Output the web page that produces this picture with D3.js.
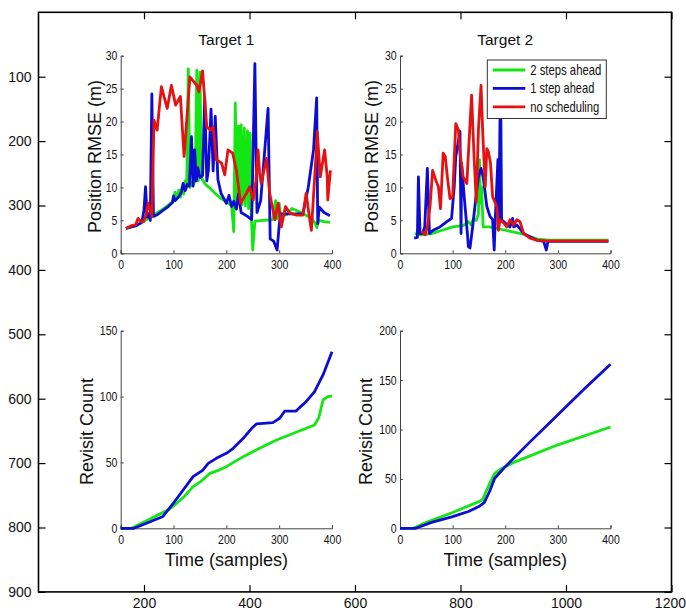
<!DOCTYPE html>
<html><head><meta charset="utf-8">
<script src="https://cdn.jsdelivr.net/npm/d3@7"></script>
<style>body{margin:0;background:#fff}svg{display:block}text{font-family:"Liberation Sans",Arial,Helvetica,sans-serif}</style>
</head><body><svg id="c" width="686" height="611"></svg>
<script>
// ---------- tick labels ----------
const outerXTicks = [200, 400, 600, 800, 1000, 1200];
const outerYTicks = [100, 200, 300, 400, 500, 600, 700, 800, 900];
const timeTicks = [0, 100, 200, 300, 400];
const rmseTicks = [0, 5, 10, 15, 20, 25, 30];
const revisit1Ticks = [0, 50, 100, 150];
const revisit2Ticks = [0, 50, 100, 150, 200];
const seriesNames = ["2 steps ahead", "1 step ahead", "no scheduling"];
const titles = ["Target 1", "Target 2"];

// ---------- Target 1 RMSE ----------
const t1Green = [[10,3.8],[20,4.0],[30,4.3],[40,4.7],[50,5.2],[60,5.6],[70,6.2],[80,6.7],[90,7.3],[100,8.0],[103,9.3],[106,8.2],[110,9.6],[113,8.5],[116,10],[119,9],[122,11],[125,10],[128,28],[131,10],[135,10.8],[138,10.5],[141,11],[144,27.8],[147,11],[150,27.5],[153,11.5],[156,11],[160,10.5],[170,9.8],[180,9.0],[190,8.3],[200,7.8],[210,7.2],[214,3.3],[217,22.8],[220,7.6],[223,19.3],[225,7.8],[228,19.5],[230,7.4],[234,19.0],[236,7.2],[240,18.6],[242,6.8],[245,18.2],[247,6.3],[250,0.5],[254,4.9],[270,5.0],[288,5.1],[293,8.0],[296,5.3],[300,7.6],[303,5.6],[315,5.9],[324,6.8],[333,6.5],[345,6.0],[360,5.4],[368,4.6],[371,3.9],[375,5.0],[385,4.8],[396,4.7]];
const t1Blue = [[10,3.8],[20,4.0],[30,4.2],[40,4.7],[44,6.5],[47,10.1],[50,5.5],[53,6.0],[56,5.0],[59,24.2],[62,5.6],[70,5.9],[80,6.5],[90,7.1],[98,7.7],[100,8.7],[103,8.0],[110,8.6],[115,9.3],[118,10.6],[122,9.5],[126,10.5],[130,10.2],[134,17.7],[137,10.2],[140,15.7],[143,11],[146,13],[150,11.5],[155,11.8],[159,23.5],[163,11],[166,12.6],[171,21.9],[175,12.5],[179,20.8],[184,11.2],[190,9.1],[200,7.6],[205,8.8],[210,7.1],[214,7.9],[219,6.7],[223,9.0],[228,6.2],[240,5.6],[248,5.1],[254,28.8],[258,6.2],[265,8],[272,15],[279,22],[283,2.2],[290,1.8],[296,0.5],[302,6.0],[320,6.0],[345,6.0],[355,10],[365,15.7],[371,23.6],[373,4.5],[376,7.0],[385,6.2],[396,5.7]];
const t1Red = [[10,3.8],[20,4.2],[28,4.3],[33,5.3],[38,4.8],[43,4.8],[48,5.8],[52,7.6],[56,6.5],[59,5.6],[63,20.2],[69,18.7],[77,25.3],[88,22],[96,25.5],[104,22.5],[113,23.8],[120,14.7],[131,26.8],[144,25.5],[148,24.5],[155,27.7],[163,19.2],[170,18.7],[175,19.2],[181,14.2],[191,13.7],[197,11.9],[203,15.7],[212,15.2],[219,12.6],[227,7.6],[238,9.1],[244,10.1],[251,8.1],[256,11.1],[260,15.7],[263,12.1],[266,10.6],[276,14.4],[282,9.1],[292,5.1],[298,7.6],[304,4.0],[312,7.1],[320,6.1],[333,5.8],[345,5.8],[351,9.1],[358,5.1],[361,3.5],[370,15.2],[372,18.5],[378,11.6],[386,15.7],[391,11.6],[392,8.1],[397,12.6]];

// ---------- Target 2 RMSE ----------
const t2Green = [[28,3.0],[40,2.8],[60,3.0],[80,3.5],[100,4.0],[120,4.2],[130,4.8],[135,4.3],[140,5.3],[145,5.0],[149,6.0],[151,14.2],[153,7.6],[155,10.1],[158,4.0],[170,4.0],[200,3.5],[230,3.0],[260,2.2],[280,2.0],[396,2.0]];
const t2Blue = [[27,2.3],[33,2.4],[35,11.6],[38,3.0],[43,3.0],[47,4.0],[52,12.9],[56,3.0],[63,3.5],[76,4.0],[89,4.8],[98,5.3],[103,10.1],[106,14.7],[114,18.5],[116,3.0],[117,13.7],[122,8.6],[127,4.0],[130,1.0],[133,0.8],[138,4.0],[143,7.6],[149,11.6],[154,12.9],[158,11.6],[165,7.1],[171,5.6],[176,5.1],[179,0.5],[181,5.1],[186,14.2],[188,5],[191,28],[193,5.1],[200,4.6],[209,4.0],[214,5.3],[216,4.0],[222,4.3],[235,3.0],[260,2.0],[273,1.8],[278,0.5],[281,1.8],[396,1.8]];
const t2Red = [[41,3.3],[48,2.8],[52,4.0],[57,7.1],[62,12.6],[68,11.1],[73,10.1],[77,6.8],[82,15.2],[86,14.7],[90,11.6],[95,8.3],[100,8.6],[106,19.7],[111,18.7],[114,15.2],[120,11.6],[127,10.6],[136,24.0],[141,14.2],[145,7.8],[149,18.7],[154,25.5],[157,18.7],[162,10.1],[165,15.9],[168,15.4],[172,13.7],[176,8.6],[184,7.1],[187,3.5],[190,5.1],[197,4.6],[203,4.0],[209,5.1],[216,4.3],[222,5.1],[228,4.8],[235,3.0],[247,2.3],[260,2.0],[279,1.9],[396,1.9]];

// ---------- Revisit counts ----------
const r1Green = [[0,0],[20,0],[50,6],[70,10],[90,14],[100,17],[106,19],[120,24],[137,31.6],[150,35],[169,41.7],[185,44],[200,46.8],[232,54.4],[263,60.7],[295,67],[326,72],[367,78.4],[375,84],[383,97.4],[392,100],[400,100.4]];
const r1Blue = [[0,0],[25,0],[50,4],[80,9],[99.5,19],[120,30],[137,39.2],[155,44],[165.7,49.3],[181,53.1],[200,56.9],[213,60.7],[232,68.3],[248,75.9],[257,79.2],[288,80.2],[301,83.5],[310.6,89],[332,89],[339,91.8],[351,96.1],[367,103.7],[383,116.4],[400,134]];
const r2Green = [[0,0],[25,0],[50,6],[100,16],[150,27],[157,29],[170,45],[180,55.6],[195,61],[220,67.5],[300,84.5],[400,102.5]];
const r2Blue = [[0,0],[30,0],[60,6],[100,11.8],[130,17],[150,22],[160,26],[170,37],[180,50.6],[200,62.4],[250,89],[300,115],[350,141],[400,166]];

const GREEN = "#14e614", BLUE = "#0c0cd2", RED = "#e41212";
const LW = 2.8;
const svg = d3.select("#c");

// ---------- outer (image pixel) axes ----------
const ox = d3.scaleLinear().domain([0, 1200]).range([38.5, 671.5]);
const oy = d3.scaleLinear().domain([0, 900]).range([12.3, 591.9]);
const outer = svg.append("g");
const fmt = d3.format("d");
function styleOuter(g){ g.select(".domain").remove(); g.selectAll("line").attr("stroke","#000").attr("stroke-width",1.2); g.selectAll("text").attr("font-size",14).attr("fill","#111"); }
const bx = outer.append("g").attr("transform",`translate(0,${oy(900)})`).call(d3.axisBottom(ox).tickValues(outerXTicks).tickSize(-7).tickPadding(6).tickFormat(fmt)).call(styleOuter);
bx.selectAll(".tick text").filter(d => d === 1200).attr("text-anchor","end").attr("x",14);
outer.append("g").attr("transform",`translate(0,${oy(0)})`).call(d3.axisTop(ox).tickValues(outerXTicks).tickSize(-7).tickFormat("")).call(styleOuter);
outer.append("g").attr("transform",`translate(${ox(0)},0)`).call(d3.axisLeft(oy).tickValues(outerYTicks).tickSize(-7).tickPadding(7).tickFormat(fmt)).call(styleOuter);
outer.append("g").attr("transform",`translate(${ox(1200)},0)`).call(d3.axisRight(oy).tickValues(outerYTicks).tickSize(-7).tickFormat("")).call(styleOuter);
outer.append("rect").attr("x",ox(0)).attr("y",oy(0)).attr("width",ox(1200)-ox(0)).attr("height",oy(900)-oy(0)).attr("fill","none").attr("stroke","#000").attr("stroke-width",1.6);

// ---------- panels ----------
function panel(xr, yr, ymax, yTicks, series, opts){
  const x = d3.scaleLinear().domain([0,400]).range(xr);
  const y = d3.scaleLinear().domain([0,ymax]).range(yr);
  const g = svg.append("g");
  const ax = g.append("g").attr("transform",`translate(0,${yr[0]})`).call(d3.axisBottom(x).tickValues(timeTicks).tickSize(-3).tickPadding(7));
  const ay = g.append("g").attr("transform",`translate(${xr[0]},0)`).call(d3.axisLeft(y).tickValues(yTicks).tickSize(-3).tickPadding(4));
  [ax, ay].forEach(a => {
    a.select(".domain").attr("stroke","#444").attr("stroke-width",1);
    a.selectAll("line").attr("stroke","#444");
    a.selectAll("text").attr("font-size",12.5).attr("fill","#111").attr("transform","scale(0.84,1)");
  });
  const line = d3.line().x(d => x(d[0])).y(d => y(d[1]));
  series.forEach(s => {
    g.append("path").datum(s.data).attr("d",line).attr("fill","none").attr("stroke",s.color).attr("stroke-width",LW).attr("stroke-linejoin","round");
  });
  const cx = (xr[0]+xr[1])/2, cy = (yr[0]+yr[1])/2;
  if (opts.title) g.append("text").attr("x",cx).attr("y",45).attr("text-anchor","middle").attr("font-size",15.5).attr("fill","#111").text(opts.title);
  g.append("text").attr("transform",`translate(${opts.ylx},${cy+2}) rotate(-90)`).attr("text-anchor","middle").attr("font-size",18).attr("fill","#111").text(opts.ylabel);
  if (opts.xlabel) g.append("text").attr("x",cx).attr("y",566).attr("text-anchor","middle").attr("font-size",18).attr("fill","#111").text(opts.xlabel);
  return {x, y, g};
}

panel([120.7,332],[253.3,55.7],30,rmseTicks,
  [{data:t1Green,color:GREEN},{data:t1Blue,color:BLUE},{data:t1Red,color:RED}],
  {title:titles[0], ylabel:"Position RMSE (m)", ylx:100.5});
panel([400,610.5],[253.3,55.7],30,rmseTicks,
  [{data:t2Green,color:GREEN},{data:t2Blue,color:BLUE},{data:t2Red,color:RED}],
  {title:titles[1], ylabel:"Position RMSE (m)", ylx:378});
panel([120.7,332],[528.3,330.7],150,revisit1Ticks,
  [{data:r1Green,color:GREEN},{data:r1Blue,color:BLUE}],
  {ylabel:"Revisit Count", ylx:93, xlabel:"Time (samples)"});
panel([400,610.5],[528.3,330.7],200,revisit2Ticks,
  [{data:r2Green,color:GREEN},{data:r2Blue,color:BLUE}],
  {ylabel:"Revisit Count", ylx:372, xlabel:"Time (samples)"});

// ---------- legend ----------
const lg = svg.append("g").attr("transform","translate(487.3,60)");
lg.append("rect").attr("width",119).attr("height",58.5).attr("fill","#fff").attr("stroke","#333").attr("stroke-width",1);
const legColors = [GREEN, BLUE, RED];
const legLens = [71, 64, 69];
seriesNames.forEach((n,i) => {
  const yy = 10 + i*18.4;
  lg.append("line").attr("x1",5.5).attr("x2",38).attr("y1",yy).attr("y2",yy).attr("stroke",legColors[i]).attr("stroke-width",LW);
  lg.append("text").attr("x",43).attr("y",yy+5).attr("font-size",14.5).attr("fill","#111")
    .attr("textLength",legLens[i]).attr("lengthAdjust","spacingAndGlyphs").text(n);
});
</script></body></html>
